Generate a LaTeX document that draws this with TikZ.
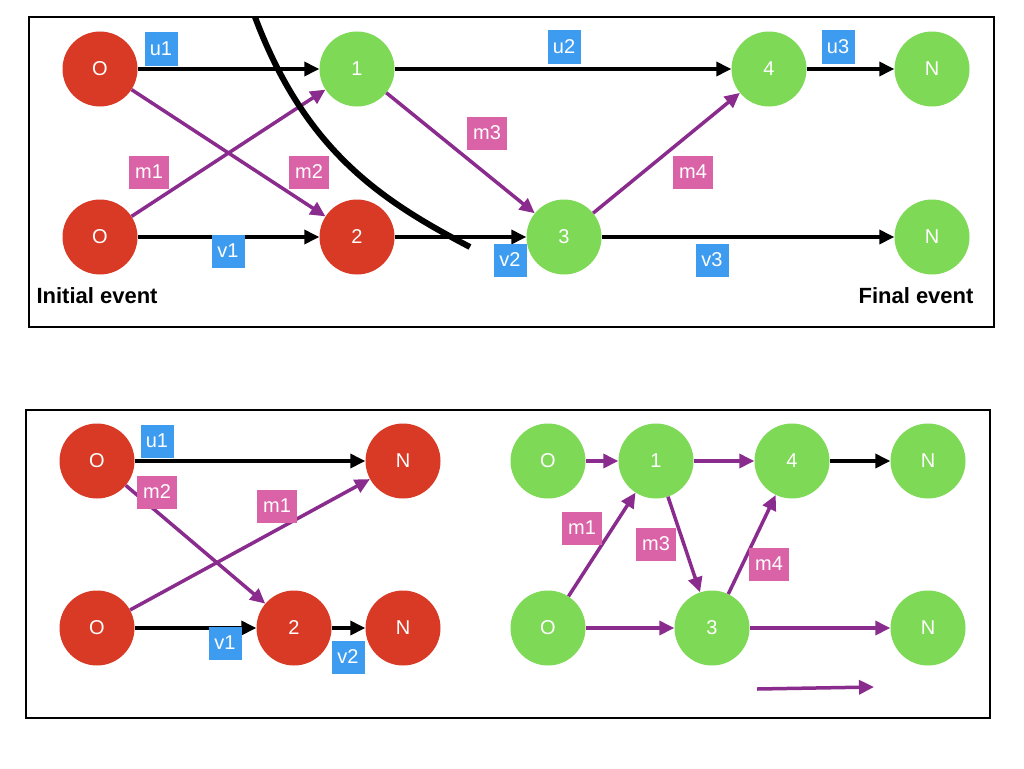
\documentclass[tikz,border=0pt]{standalone}
\usepackage{fontspec}
\setmainfont{Liberation Sans}
\usetikzlibrary{arrows.meta}
\definecolor{evred}{HTML}{D93A26}
\definecolor{evgreen}{HTML}{7ED957}
\definecolor{lblblue}{HTML}{3D9CF0}
\definecolor{lblpink}{HTML}{DA62A6}
\definecolor{msgpurple}{HTML}{8A2B8E}

\begin{document}
\begin{tikzpicture}[x=1pt,y=-1pt,
    every node/.style={font=\fontsize{20}{24}\selectfont},
    ev/.style={circle,minimum size=75pt,inner sep=0pt,text=white},
    red ev/.style={ev,fill=evred},
    green ev/.style={ev,fill=evgreen},
    ulbl/.style={fill=lblblue,text=white,inner sep=0pt,minimum height=33pt,minimum width=33pt},
    mlbl/.style={fill=lblpink,text=white,inner sep=0pt,minimum height=33pt,minimum width=40pt},
    flow/.style={-{Triangle[length=15pt,width=14pt]},line width=3.5pt,black},
    msg/.style={-{Triangle[length=15pt,width=14pt]},line width=3.5pt,msgpurple},
    title/.style={font=\fontsize{22}{26}\selectfont\bfseries}]
  \useasboundingbox (0,0) rectangle (1024,768);

  % upper frame
  \draw[line width=2pt] (29,17) rectangle (994,327);
  \node[red ev] (a0) at (100,69) {O};
  \node[red ev] (b0) at (100,237) {O};
  \node[green ev] (a1) at (357,69) {1};
  \node[red ev] (a2) at (357,237) {2};
  \node[green ev] (a3) at (564,237) {3};
  \node[green ev] (a4) at (769,69) {4};
  \node[green ev] (aN) at (932,69) {N};
  \node[green ev] (bN) at (932,237) {N};
  \draw[flow] (a0) -- (a1);
  \draw[flow] (a1) -- (a4);
  \draw[flow] (a4) -- (aN);
  \draw[flow] (b0) -- (a2);
  \draw[flow] (a2) -- (a3);
  \draw[flow] (a3) -- (bN);
  \draw[msg] (a0) -- (a2);
  \draw[msg] (b0) -- (a1);
  \draw[msg] (a1) -- (a3);
  \draw[msg] (a3) -- (a4);
  % cut
  \draw[line width=6pt] (255,17) .. controls (305,150) and (380,200) .. (470,247);
  \node[ulbl] (lu1) at (161,49) {u1};
  \node[ulbl] (lu2) at (564,47) {u2};
  \node[ulbl] (lu3) at (838,47) {u3};
  \node[ulbl] (lv1) at (228,251) {v1};
  \node[ulbl] (lv2) at (510,260) {v2};
  \node[ulbl] (lv3) at (712,260) {v3};
  \node[mlbl] (lm1) at (149,172) {m1};
  \node[mlbl] (lm2) at (309,172) {m2};
  \node[mlbl] (lm3) at (487,133) {m3};
  \node[mlbl] (lm4) at (693,172) {m4};
  \node[title,anchor=west] (init) at (33,296) {Initial event};
  \node[title,anchor=east] (final) at (977,296) {Final event};

  % lower frame
  \draw[line width=2pt] (26,410) rectangle (990,718);
  % left part
  \node[red ev] (c0) at (97,461) {O};
  \node[red ev] (d0) at (97,628) {O};
  \node[red ev] (cN) at (403,461) {N};
  \node[red ev] (d2) at (294,628) {2};
  \node[red ev] (dN) at (403,628) {N};
  \draw[flow] (c0) -- (cN);
  \draw[flow] (d0) -- (d2);
  \draw[flow] (d2) -- (dN);
  \draw[msg] (c0) -- (d2);
  \draw[msg] (d0) -- (cN);
  \node[ulbl] (ku1) at (157,441) {u1};
  \node[mlbl] (km2) at (157,492) {m2};
  \node[mlbl] (km1) at (277,506) {m1};
  \node[ulbl] (kv1) at (225,643) {v1};
  \node[ulbl] (kv2) at (348,657) {v2};
  % right part
  \node[green ev] (e0) at (548,461) {O};
  \node[green ev] (e1) at (656,461) {1};
  \node[green ev] (e4) at (792,461) {4};
  \node[green ev] (eN) at (928,461) {N};
  \node[green ev] (f0) at (548,628) {O};
  \node[green ev] (f3) at (712,628) {3};
  \node[green ev] (fN) at (928,628) {N};
  \draw[msg] (e0) -- (e1);
  \draw[msg] (e1) -- (e4);
  \draw[flow] (e4) -- (eN);
  \draw[msg] (f0) -- (f3);
  \draw[msg] (f3) -- (fN);
  \draw[msg] (f0) -- (e1);
  \draw[msg] (e1) -- (f3);
  \draw[msg] (f3) -- (e4);
  \node[mlbl] (jm1) at (582,528) {m1};
  \node[mlbl] (jm3) at (656,544) {m3};
  \node[mlbl] (jm4) at (769,564) {m4};
  \coordinate (lg0) at (757,689);
  \coordinate (lg1) at (874,687);
  \draw[msg] (lg0) -- (lg1);
\end{tikzpicture}
\end{document}
